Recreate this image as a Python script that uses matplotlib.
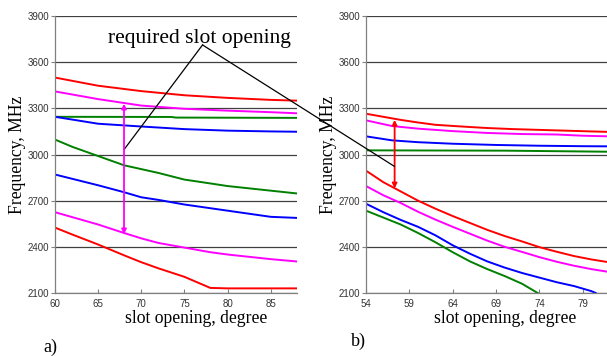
import numpy as np
import matplotlib.pyplot as plt
from matplotlib.patches import ConnectionPatch

# panel a) slot opening, degree
xa_red_top = [60, 65, 70, 75, 80, 85, 88]
ya_red_top = [3500, 3447, 3412, 3385, 3368, 3355, 3350]
xa_mag_top = [60, 65, 70, 75, 80, 85, 88]
ya_mag_top = [3410, 3360, 3318, 3297, 3285, 3275, 3268]
xa_grn_top = [60, 73.5, 74, 88]
ya_grn_top = [3245, 3244, 3240, 3238]
xa_blu_top = [60, 65, 70, 75, 80, 85, 88]
ya_blu_top = [3245, 3200, 3182, 3165, 3155, 3150, 3148]
xa_grn_low = [60, 62, 65, 68, 70, 72, 75, 78, 80, 85, 88]
ya_grn_low = [3097, 3050, 2990, 2930, 2905, 2880, 2837, 2812, 2795, 2765, 2747]
xa_blu_low = [60, 65, 68, 70, 72, 75, 80, 85, 88]
ya_blu_low = [2870, 2800, 2755, 2722, 2705, 2675, 2635, 2595, 2588]
xa_mag_low = [60, 65, 68, 70, 72, 75, 78, 80, 85, 88]
ya_mag_low = [2625, 2545, 2490, 2455, 2425, 2395, 2365, 2350, 2320, 2305]
xa_red_low = [60, 62, 65, 68, 70, 72, 75, 78, 80, 85, 88]
ya_red_low = [2525, 2480, 2415, 2345, 2300, 2260, 2205, 2133, 2130, 2130, 2130]

# panel b)
xb_red_top = [54, 56, 58, 60, 62, 65, 68, 71, 74, 77, 80, 82]
yb_red_top = [3265, 3245, 3225, 3208, 3193, 3182, 3172, 3165, 3160, 3155, 3150, 3147]
xb_mag_top = [54, 57, 60, 64, 68, 72, 76, 79, 82]
yb_mag_top = [3222, 3185, 3168, 3152, 3140, 3133, 3130, 3122, 3118]
xb_blu_top = [54, 57, 60, 64, 69, 74, 79, 82]
yb_blu_top = [3118, 3092, 3080, 3070, 3062, 3057, 3054, 3053]
xb_grn_top = [54, 70, 82]
yb_grn_top = [3027, 3025, 3018]
xb_red_low = [54, 56, 58, 60, 62, 64, 66, 68, 70, 72, 74, 76, 78, 80, 82]
yb_red_low = [2895, 2820, 2760, 2700, 2648, 2600, 2555, 2510, 2470, 2435, 2398, 2368, 2340, 2318, 2300]
xb_mag_low = [54, 56, 58, 60, 62, 64, 66, 68, 70, 72, 74, 76, 78, 80, 82]
yb_mag_low = [2795, 2735, 2685, 2628, 2577, 2530, 2485, 2440, 2400, 2367, 2333, 2303, 2277, 2255, 2237]
xb_blu_low = [54, 56, 58, 60, 62, 64, 66, 68, 70, 72, 74, 76, 78, 80, 80.5]
yb_blu_low = [2680, 2625, 2575, 2530, 2475, 2410, 2355, 2305, 2265, 2230, 2200, 2170, 2145, 2112, 2100]
xb_grn_low = [54, 56, 58, 60, 62, 64, 66, 68, 70, 72, 73.8]
yb_grn_low = [2635, 2590, 2545, 2490, 2430, 2365, 2305, 2255, 2210, 2160, 2100]

yticks = [2100, 2400, 2700, 3000, 3300, 3600, 3900]
xticks_a = [60, 65, 70, 75, 80, 85]
xticks_b = [54, 59, 64, 69, 74, 79]

RED, MAG, BLU, GRN = "#ff0000", "#ff00ff", "#0000ff", "#008000"
serif = "Liberation Serif"
sans = "Liberation Sans"

fig = plt.figure(figsize=(6.07, 3.56), dpi=100)
ax1 = fig.add_axes([0.0906, 0.177, 0.398, 0.778])
ax2 = fig.add_axes([0.603, 0.177, 0.397, 0.778])


def style(ax, xlim, xticks, label_x):
    ax.set_xlim(*xlim)
    ax.set_ylim(2100, 3900)
    ax.set_yticks(yticks)
    ax.set_xticks(xticks)
    ax.grid(axis="y", color="#404040", lw=0.9)
    ax.set_axisbelow(True)
    for s in ["top", "right"]:
        ax.spines[s].set_visible(False)
    for s in ["left", "bottom"]:
        ax.spines[s].set_color("#808080")
        ax.spines[s].set_linewidth(0.9)
    ax.tick_params(axis="y", direction="out", length=3, color="#808080",
                   labelsize=7, labelcolor="#333333", pad=1)
    ax.tick_params(axis="x", direction="in", length=3, color="#808080",
                   labelsize=7, labelcolor="#333333", pad=4)
    for t in ax.get_xticklabels() + ax.get_yticklabels():
        t.set_family(sans)
    ax.set_xlabel("slot opening, degree", family=serif, fontsize=12.7,
                  labelpad=1, x=label_x)
    ax.set_ylabel("Frequency, MHz", family=serif, fontsize=12.7, labelpad=1)


lw = 1.4
ax1.plot(xa_red_top, ya_red_top, color=RED, lw=lw)
ax1.plot(xa_mag_top, ya_mag_top, color=MAG, lw=lw)
ax1.plot(xa_grn_top, ya_grn_top, color=GRN, lw=lw)
ax1.plot(xa_blu_top, ya_blu_top, color=BLU, lw=lw)
ax1.plot(xa_grn_low, ya_grn_low, color=GRN, lw=lw)
ax1.plot(xa_blu_low, ya_blu_low, color=BLU, lw=lw)
ax1.plot(xa_mag_low, ya_mag_low, color=MAG, lw=lw)
ax1.plot(xa_red_low, ya_red_low, color=RED, lw=lw)
style(ax1, (60, 88), xticks_a, 0.585)

ax2.plot(xb_red_top, yb_red_top, color=RED, lw=lw)
ax2.plot(xb_mag_top, yb_mag_top, color=MAG, lw=lw)
ax2.plot(xb_blu_top, yb_blu_top, color=BLU, lw=lw)
ax2.plot(xb_grn_top, yb_grn_top, color=GRN, lw=lw)
ax2.plot(xb_red_low, yb_red_low, color=RED, lw=lw)
ax2.plot(xb_mag_low, yb_mag_low, color=MAG, lw=lw)
ax2.plot(xb_blu_low, yb_blu_low, color=BLU, lw=lw)
ax2.plot(xb_grn_low, yb_grn_low, color=GRN, lw=lw)
style(ax2, (54, 81.8), xticks_b, 0.577)

# double arrows marking the required slot opening
ax1.annotate("", xy=(68, 3330), xytext=(68, 2482),
             arrowprops=dict(arrowstyle="<|-|>", color=MAG, lw=1.3,
                             mutation_scale=7, shrinkA=0, shrinkB=0))
ax2.annotate("", xy=(57.3, 3225), xytext=(57.3, 2780),
             arrowprops=dict(arrowstyle="<|-|>", color=RED, lw=1.3,
                             mutation_scale=7, shrinkA=0, shrinkB=0))

# callout
apex = (77.1, 3712)
ax1.plot([apex[0], 68], [apex[1], 3032], color="black", lw=0.9)
con = ConnectionPatch(xyA=apex, coordsA=ax1.transData,
                      xyB=(57.3, 2922), coordsB=ax2.transData,
                      color="black", lw=0.9)
fig.add_artist(con)
ax1.text(76.7, 3725, "required slot opening", family=serif, fontsize=15.5,
         ha="center", va="baseline")

fig.text(0.083, 0.025, "a)", family=serif, fontsize=13, ha="center", va="center")
fig.text(0.591, 0.04, "b)", family=serif, fontsize=13, ha="center", va="center")

fig.savefig("out.png", dpi=100)
